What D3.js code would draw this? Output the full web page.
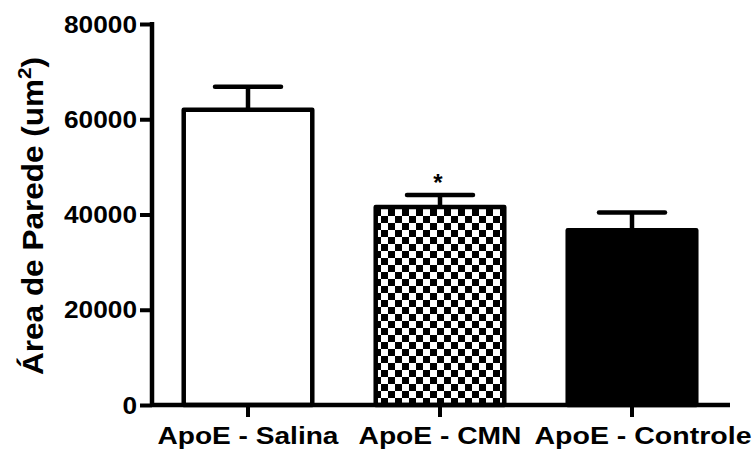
<!DOCTYPE html>
<html>
<head>
<meta charset="utf-8">
<script src="https://cdn.jsdelivr.net/npm/d3@7"></script>
<style>
  html, body { margin: 0; padding: 0; background: #fff; }
  svg { display: block; }
  text { font-family: "Liberation Sans", Arial, sans-serif; font-weight: bold; fill: #000; }
</style>
</head>
<body>
<svg id="chart" width="752" height="450"></svg>
<script>
// ---- data ----
const categories = ["ApoE - Salina", "ApoE - CMN", "ApoE - Controle"];
const means = [62000, 41600, 36700];
const errors = [4800, 2500, 3700];
const significance = ["", "*", ""];
const yTicks = [0, 20000, 40000, 60000, 80000];
const yTitle = "Área de Parede (um";
const yTitleSup = "2";

// ---- layout ----
const W = 752, H = 450;
const plot = { left: 152, right: 728, top: 24, bottom: 405 };
const fills = ["white", "url(#checker)", "black"];
const labelShift = [0, 0, 11];
const labelWidths = [181, 163, 217];
const sq = 7;

const svg = d3.select("#chart");

// checkerboard pattern
const defs = svg.append("defs");
const pat = defs.append("pattern")
  .attr("id", "checker").attr("patternUnits", "userSpaceOnUse")
  .attr("width", 2 * sq).attr("height", 2 * sq).attr("x", 374).attr("y", 209);
pat.append("rect").attr("width", 2 * sq).attr("height", 2 * sq).attr("fill", "white");
pat.append("rect").attr("x", 0).attr("y", 0).attr("width", sq).attr("height", sq).attr("fill", "black");
pat.append("rect").attr("x", sq).attr("y", sq).attr("width", sq).attr("height", sq).attr("fill", "black");

const x = d3.scaleBand().domain(categories)
  .range([plot.left, plot.right]).paddingInner(0.32).paddingOuter(0.16);
const y = d3.scaleLinear().domain([0, 80000]).range([plot.bottom, plot.top]);

// bars
svg.append("g").selectAll("rect").data(categories).join("rect")
  .attr("x", d => x(d) + 1)
  .attr("y", (d, i) => y(means[i]))
  .attr("width", x.bandwidth() - 2)
  .attr("height", (d, i) => y(0) - y(means[i]))
  .attr("fill", (d, i) => fills[i])
  .attr("stroke", "black").attr("stroke-width", 4.5)
  .attr("stroke-linejoin", "round");

// error bars (upper only)
const eb = svg.append("g").attr("stroke", "black").attr("stroke-width", 4.5);
categories.forEach((c, i) => {
  const cx = x(c) + x.bandwidth() / 2;
  eb.append("line").attr("x1", cx).attr("x2", cx)
    .attr("y1", y(means[i])).attr("y2", y(means[i] + errors[i]));
  eb.append("line").attr("x1", cx - 33).attr("x2", cx + 33)
    .attr("y1", y(means[i] + errors[i])).attr("y2", y(means[i] + errors[i]))
    .attr("stroke-linecap", "round");
  if (significance[i]) {
    svg.append("text").attr("x", cx - 2).attr("y", y(means[i] + errors[i]) - 4)
      .attr("text-anchor", "middle").attr("font-size", 24).text(significance[i]);
  }
});

// y axis
const yAxis = d3.axisLeft(y).tickValues(yTicks).tickSize(12).tickPadding(3).tickFormat(d3.format("d"));
const gy = svg.append("g").attr("transform", `translate(${plot.left},0)`).call(yAxis);
gy.select(".domain").attr("stroke", "black").attr("stroke-width", 4.5)
  .attr("d", `M0,${plot.top - 2}V${plot.bottom + 2}`);
gy.selectAll(".tick line").attr("stroke", "black").attr("stroke-width", 4);
gy.selectAll(".tick text").attr("font-size", 24).attr("font-family", "Liberation Sans, Arial, sans-serif")
  .attr("font-weight", "bold").attr("fill", "black").attr("dy", "0.34em")
  .attr("textLength", d => String(d).length * 14.6).attr("lengthAdjust", "spacingAndGlyphs");

// x axis
const xAxis = d3.axisBottom(x).tickSize(12).tickFormat(() => "");
const gx = svg.append("g").attr("transform", `translate(0,${plot.bottom})`).call(xAxis);
gx.select(".domain").attr("stroke", "black").attr("stroke-width", 4.5)
  .attr("d", `M${plot.left},0H${plot.right + 2}`);
gx.selectAll(".tick line").attr("stroke", "black").attr("stroke-width", 4);

svg.append("g").selectAll("text").data(categories).join("text")
  .attr("x", (d, i) => x(d) + x.bandwidth() / 2 + labelShift[i])
  .attr("y", 444)
  .attr("text-anchor", "middle")
  .attr("font-size", 23)
  .attr("textLength", (d, i) => labelWidths[i])
  .attr("lengthAdjust", "spacingAndGlyphs")
  .text(d => d);

// y title
const title = svg.append("text")
  .attr("text-anchor", "middle")
  .attr("font-size", 29);
title.append("tspan").text(yTitle);
title.append("tspan").attr("font-size", 19).attr("dy", -12).text(yTitleSup);
title.append("tspan").attr("dy", 12).text(")");
const len = title.node().getComputedTextLength();
const sx = 318 / len;
title.attr("transform", `translate(43,216) rotate(-90) scale(${sx},1)`);
</script>
</body>
</html>
